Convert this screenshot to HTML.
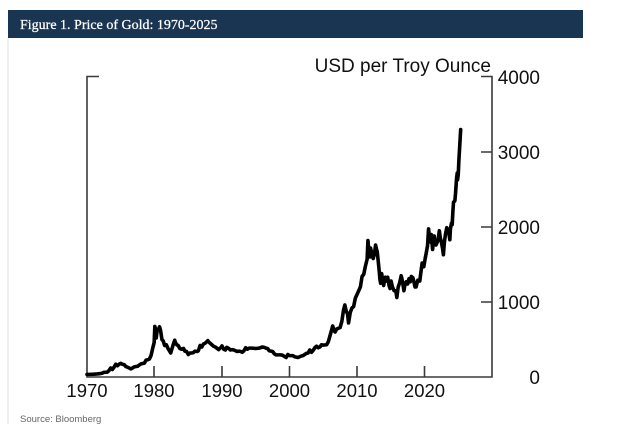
<!DOCTYPE html>
<html>
<head>
<meta charset="utf-8">
<style>
  html, body { margin: 0; padding: 0; background: #ffffff; }
  body { width: 620px; height: 440px; position: relative; overflow: hidden; }
  svg { position: absolute; left: 0; top: 0; }
</style>
</head>
<body>
<svg width="620" height="440" viewBox="0 0 620 440" xmlns="http://www.w3.org/2000/svg">
  <!-- faint left border -->
  <line x1="8" y1="38" x2="8" y2="424" stroke="#e6e6e6" stroke-width="1.2"/>
  <!-- header bar -->
  <rect x="8" y="10" width="575" height="28" fill="#193552"/>
  <text x="20" y="29" font-family="Liberation Serif, serif" font-size="14" fill="#ffffff" stroke="#ffffff" stroke-width="0.25">Figure 1. Price of Gold: 1970-2025</text>

  <!-- axis title -->
  <text x="491" y="72" text-anchor="end" font-family="Liberation Sans, sans-serif" font-size="19" fill="#111">USD per Troy Ounce</text>

  <!-- axes -->
  <g stroke="#3a3a3a" stroke-width="1.6" fill="none">
    <path d="M99,76.5 H87 V377 H492 V76.5 H481"/>
    <path d="M481,152 H492 M481,227 H492 M481,302 H492"/>
    <path d="M154,366 V377 M222,366 V377 M289.5,366 V377 M357,366 V377 M424.5,366 V377"/>
  </g>

  <!-- y labels -->
  <g font-family="Liberation Sans, sans-serif" font-size="19" fill="#111" text-anchor="end">
    <text x="540" y="84">4000</text>
    <text x="540" y="159">3000</text>
    <text x="540" y="234">2000</text>
    <text x="540" y="309">1000</text>
    <text x="540" y="384">0</text>
  </g>
  <!-- x labels -->
  <g font-family="Liberation Sans, sans-serif" font-size="18.5" fill="#111" text-anchor="middle">
    <text x="87" y="397">1970</text>
    <text x="154" y="397">1980</text>
    <text x="222" y="397">1990</text>
    <text x="289.5" y="397">2000</text>
    <text x="357" y="397">2010</text>
    <text x="424.5" y="397">2020</text>
  </g>

  <!-- source -->
  <text x="20" y="422" font-family="Liberation Sans, sans-serif" font-size="9.5" fill="#666">Source: Bloomberg</text>

  <!-- gold price series (data coords: years since 1970, USD) -->
  <g transform="translate(87,377) scale(6.75,-0.075)">
    <polyline fill="none" stroke="#000" stroke-width="3.6" stroke-linejoin="round" stroke-linecap="round" vector-effect="non-scaling-stroke"
      points="0,35 0.5,35.5 1,37.5 1.5,41 2,46 2.3,52 2.5,62 3,65 3.25,85 3.5,120 3.75,100 4,130 4.25,170 4.5,150 4.75,170 5,182 5.25,170 5.5,165 5.75,140 6,130 6.3,118 6.5,108 6.75,120 7,135 7.5,143 7.75,160 8,175 8.5,185 8.75,225 9,230 9.25,240 9.5,290 9.75,390 9.95,460 10.05,675 10.15,640 10.25,520 10.4,620 10.6,640 10.75,670 10.9,620 11.1,500 11.3,480 11.5,420 11.75,430 12,380 12.4,320 12.6,380 12.8,440 13,490 13.1,460 13.3,430 13.5,420 13.75,380 14,370 14.3,380 14.5,345 14.75,340 15,300 15.25,320 15.5,320 15.75,325 16,345 16.3,340 16.5,350 16.75,420 17,400 17.25,440 17.5,450 17.9,485 18,470 18.25,450 18.5,430 18.75,410 19,400 19.3,380 19.5,365 19.9,400 20,415 20.25,370 20.5,360 20.7,395 21,380 21.25,360 21.5,365 21.75,360 22,350 22.25,340 22.5,345 22.75,340 23,330 23.25,350 23.5,390 23.75,370 24,385 24.5,385 25,380 25.5,385 26,400 26.25,395 26.5,385 26.75,380 27,350 27.5,340 27.75,310 28,295 28.5,295 28.75,295 29,288 29.5,260 29.75,300 30,285 30.5,285 30.75,270 31,265 31.25,260 31.5,270 31.75,280 32,285 32.5,315 32.75,320 33,360 33.25,330 33.5,355 33.75,390 34,410 34.25,390 34.5,400 34.75,430 35,425 35.5,430 35.75,470 36,550 36.4,680 36.6,620 36.75,600 37,640 37.5,660 37.75,740 38,890 38.2,960 38.4,880 38.6,840 38.75,720 39,860 39.25,920 39.5,940 39.75,1050 40,1100 40.25,1150 40.5,1200 40.75,1340 41,1370 41.25,1480 41.5,1570 41.62,1820 41.75,1700 41.9,1600 42,1720 42.2,1650 42.4,1580 42.6,1650 42.75,1760 42.9,1700 43,1670 43.25,1450 43.4,1300 43.5,1250 43.65,1380 43.8,1300 43.95,1220 44.1,1300 44.2,1330 44.4,1280 44.55,1330 44.75,1220 44.9,1180 45.05,1280 45.25,1200 45.5,1150 45.75,1150 45.9,1060 46.1,1200 46.3,1250 46.55,1350 46.75,1270 46.95,1150 47.1,1230 47.3,1270 47.5,1240 47.7,1310 47.9,1270 48.05,1340 48.3,1320 48.6,1200 48.75,1200 49,1290 49.3,1280 49.5,1420 49.65,1520 49.9,1470 50.1,1580 50.25,1650 50.45,1750 50.6,1975 50.65,1930 50.75,1880 50.9,1800 51,1900 51.2,1700 51.35,1830 51.45,1880 51.55,1780 51.7,1760 51.9,1800 52,1820 52.2,1950 52.35,1850 52.5,1800 52.7,1700 52.8,1630 52.95,1800 53.1,1900 53.3,1990 53.45,1950 53.6,1930 53.75,1830 53.85,1980 54,2050 54.1,2030 54.2,2200 54.3,2330 54.5,2350 54.6,2450 54.75,2650 54.85,2720 54.9,2630 55,2700 55.1,2900 55.2,3050 55.36,3300"/>
  </g>
</svg>
</body>
</html>
